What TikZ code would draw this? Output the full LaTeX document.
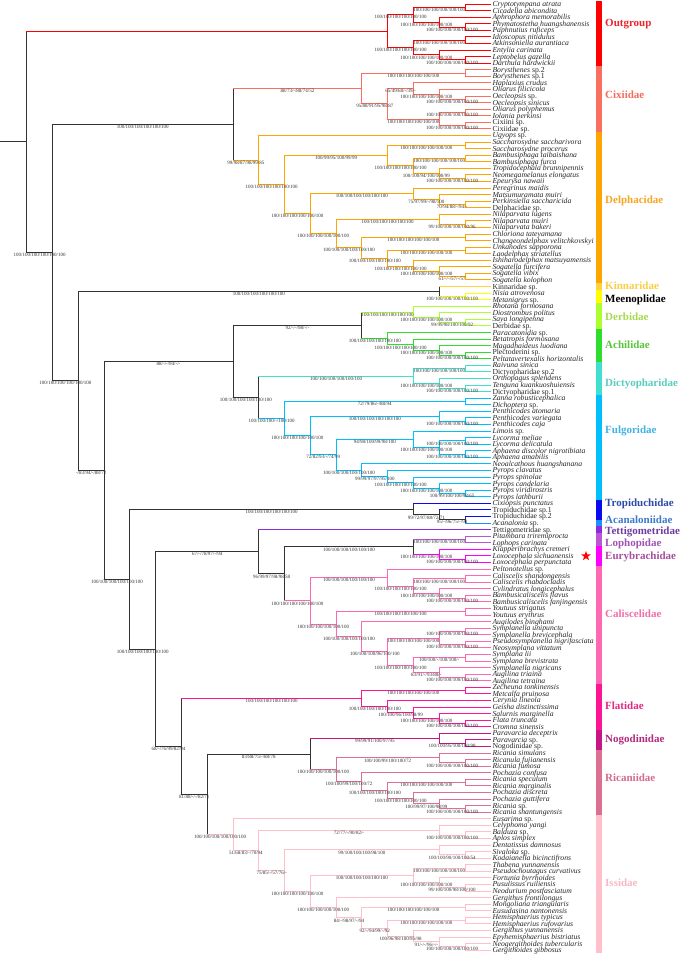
\documentclass[tikz,border=0pt]{standalone}
\usepackage{fontspec}
\setmainfont{Liberation Serif}
\usetikzlibrary{calc,shapes.geometric}
\definecolor{cO}{HTML}{FF0000}
\definecolor{cCx}{HTML}{FA7060}
\definecolor{cDe}{HTML}{FFA500}
\definecolor{cKi}{HTML}{FFD23F}
\definecolor{cMe}{HTML}{FFFF00}
\definecolor{cDb}{HTML}{ADFF2F}
\definecolor{cAc}{HTML}{2FDD2F}
\definecolor{cDi}{HTML}{40E0D0}
\definecolor{cFu}{HTML}{00BFFF}
\definecolor{cTr}{HTML}{0A0AF0}
\definecolor{cAn}{HTML}{1E90FF}
\definecolor{cTe}{HTML}{8A2BE2}
\definecolor{cLo}{HTML}{BA55D3}
\definecolor{cEu}{HTML}{FF00FF}
\definecolor{cCa}{HTML}{FF69B4}
\definecolor{cFl}{HTML}{FF1493}
\definecolor{cNo}{HTML}{C71585}
\definecolor{cRi}{HTML}{DB7093}
\definecolor{cIs}{HTML}{FFC0CB}
\definecolor{cK}{HTML}{333333}
\definecolor{tO}{HTML}{E8262C}
\definecolor{tCx}{HTML}{F26D5B}
\definecolor{tDe}{HTML}{F5A623}
\definecolor{tKi}{HTML}{F9CF45}
\definecolor{tMe}{HTML}{000000}
\definecolor{tDb}{HTML}{A8D84E}
\definecolor{tAc}{HTML}{58C43A}
\definecolor{tDi}{HTML}{5BCBC0}
\definecolor{tFu}{HTML}{40B3E3}
\definecolor{tTr}{HTML}{2E4BA8}
\definecolor{tAn}{HTML}{3C7ACB}
\definecolor{tTe}{HTML}{6E3CA0}
\definecolor{tLo}{HTML}{9D54B5}
\definecolor{tEu}{HTML}{A74E9E}
\definecolor{tCa}{HTML}{F06FAA}
\definecolor{tFl}{HTML}{E02A80}
\definecolor{tNo}{HTML}{B02B7E}
\definecolor{tRi}{HTML}{D46C8C}
\definecolor{tIs}{HTML}{F7B8C6}
\definecolor{tipgray}{HTML}{262626}
\definecolor{labgray}{HTML}{333333}
\tikzset{
  br/.style={line width=0.9pt, line cap=rect},
  lab/.style={midway, below, inner sep=0.4pt, font=\fontsize{5}{5}\selectfont, text=labgray},
  tip/.style={anchor=west, inner xsep=1.5pt, inner ysep=0pt, text height=5pt, text depth=0pt, font=\fontsize{7.7}{8}\selectfont\itshape, text=tipgray},
  fam/.style={anchor=west, inner sep=0pt, text height=7.3pt, text depth=0.5pt, font=\fontsize{11}{12}\selectfont\bfseries},
}
\newcommand\mytp[3]{\node[tip] (#1) at (490.8,{-(4+(#2-1)*6.57)}) {#3};}
\newcommand\mycl[9]{%
 \path let \p1=(#3), \p2=(#4) in coordinate (#1) at ({490.8-25.78*#2},{(\y1+\y2)/2});
 \draw[br,#5] (#1 |- #3) -- (#1 |- #4);
 \draw[br,#6] (#1 |- #3) -- (#3) node[lab]{#7};
 \draw[br,#8] (#1 |- #4) -- (#4) node[lab]{#9};
}
\newcommand\myfb[3]{\fill[#1] (595.5,{-(4+(#2-1.5)*6.57)}) rectangle (602.3,{-(4+(#3-0.5)*6.57)});}
\def\H{100/100/100/100/100/100}
\begin{document}
\begin{tikzpicture}[x=1pt,y=1pt]
\useasboundingbox (0,0) rectangle (685,-954);
% ---------------- tips
\mytp{t1}{1}{Cryptotympana atrata}
\mytp{t2}{2}{Cicadella abicondita}
\mytp{t3}{3}{Aphrophora memorabilis}
\mytp{t4}{4}{Phymatostetha huangshanensis}
\mytp{t5}{5}{Paphnutius ruficeps}
\mytp{t6}{6}{Idioscopus nitidulus}
\mytp{t7}{7}{Atkinsoniella aurantiaca}
\mytp{t8}{8}{Entylia carinata}
\mytp{t9}{9}{Leptobelus gazella}
\mytp{t10}{10}{Darthula hardwickii}
\mytp{t11}{11}{Borysthenes \textup{sp.2}}
\mytp{t12}{12}{Borysthenes \textup{sp.1}}
\mytp{t13}{13}{Haplaxius crudus}
\mytp{t14}{14}{Oliarus filicicola}
\mytp{t15}{15}{Oecleopsis \textup{sp.}}
\mytp{t16}{16}{Oecleopsis sinicus}
\mytp{t17}{17}{Oliarus polyphemus}
\mytp{t18}{18}{Iolania perkinsi}
\mytp{t19}{19}{\textup{Cixiini sp.}}
\mytp{t20}{20}{\textup{Cixiidae sp.}}
\mytp{t21}{21}{Ugyops \textup{sp.}}
\mytp{t22}{22}{Saccharosydne saccharivora}
\mytp{t23}{23}{Saccharosydne procerus}
\mytp{t24}{24}{Bambusiphaga taibaishana}
\mytp{t25}{25}{Bambusiphaga furca}
\mytp{t26}{26}{Tropidocephala brunnipennis}
\mytp{t27}{27}{Neomegamelanus elongatus}
\mytp{t28}{28}{Epeurysa nawaii}
\mytp{t29}{29}{Peregrinus maidis}
\mytp{t30}{30}{Matsumuramata muiri}
\mytp{t31}{31}{Perkinsiella saccharicida}
\mytp{t32}{32}{\textup{Delphacidae sp.}}
\mytp{t33}{33}{Nilaparvata lugens}
\mytp{t34}{34}{Nilaparvata muiri}
\mytp{t35}{35}{Nilaparvata bakeri}
\mytp{t36}{36}{Chloriona tateyamana}
\mytp{t37}{37}{Changeondelphax velitchkovskyi}
\mytp{t38}{38}{Unkanodes sapporona}
\mytp{t39}{39}{Laodelphax striatellus}
\mytp{t40}{40}{Ishiharodelphax matsuyamensis}
\mytp{t41}{41}{Sogatella furcifera}
\mytp{t42}{42}{Sogatella vibix}
\mytp{t43}{43}{Sogatella kolophon}
\mytp{t44}{44}{\textup{Kinnaridae sp.}}
\mytp{t45}{45}{Nisia atrovenosa}
\mytp{t46}{46}{Metanigrus \textup{sp.}}
\mytp{t47}{47}{Rhotana formosana}
\mytp{t48}{48}{Diostrombus politus}
\mytp{t49}{49}{Saya longipenna}
\mytp{t50}{50}{\textup{Derbidae sp.}}
\mytp{t51}{51}{Paracatonidia \textup{sp.}}
\mytp{t52}{52}{Betatropis formosana}
\mytp{t53}{53}{Magadhaideus luodiana}
\mytp{t54}{54}{\textup{Plectoderini sp.}}
\mytp{t55}{55}{Peltatavertexalis horizontalis}
\mytp{t56}{56}{Raivuna sinica}
\mytp{t57}{57}{\textup{Dictyopharidae sp.2}}
\mytp{t58}{58}{Orthopagus splendens}
\mytp{t59}{59}{Tenguna kuankuoshuiensis}
\mytp{t60}{60}{\textup{Dictyopharidae sp.1}}
\mytp{t61}{61}{Zanna robusticephalica}
\mytp{t62}{62}{Dichoptera \textup{sp.}}
\mytp{t63}{63}{Penthicodes atomaria}
\mytp{t64}{64}{Penthicodes variegata}
\mytp{t65}{65}{Penthicodes caja}
\mytp{t66}{66}{Limois \textup{sp.}}
\mytp{t67}{67}{Lycorma meliae}
\mytp{t68}{68}{Lycorma delicatula}
\mytp{t69}{69}{Aphaena discolor nigrotibiata}
\mytp{t70}{70}{Aphaena amabilis}
\mytp{t71}{71}{Neoalcathous huangshanana}
\mytp{t72}{72}{Pyrops clavatus}
\mytp{t73}{73}{Pyrops spinolae}
\mytp{t74}{74}{Pyrops candelaria}
\mytp{t75}{75}{Pyrops viridirostris}
\mytp{t76}{76}{Pyrops lathburii}
\mytp{t77}{77}{Cixiopsis punctatus}
\mytp{t78}{78}{\textup{Tropiduchidae sp.1}}
\mytp{t79}{79}{\textup{Tropiduchidae sp.2}}
\mytp{t80}{80}{Acanalonia \textup{sp.}}
\mytp{t81}{81}{\textup{Tettigometridae sp.}}
\mytp{t82}{82}{Pitambara triremiprocta}
\mytp{t83}{83}{Lophops carinata}
\mytp{t84}{84}{Klapperibrachys cremeri}
\mytp{t85}{85}{Loxocephala sichuanensis}
\mytp{t86}{86}{Loxocephala perpunctata}
\mytp{t87}{87}{Peltonotellus \textup{sp.}}
\mytp{t88}{88}{Caliscelis shandongensis}
\mytp{t89}{89}{Caliscelis rhabdocladis}
\mytp{t90}{90}{Cylindratus longicephalus}
\mytp{t91}{91}{Bambusicaliscelis flavus}
\mytp{t92}{92}{Bambusicaliscelis fanjingensis}
\mytp{t93}{93}{Youtuus strigatus}
\mytp{t94}{94}{Youtuus erythrus}
\mytp{t95}{95}{Augilodes binghami}
\mytp{t96}{96}{Symplanella unipuncta}
\mytp{t97}{97}{Symplanella brevicephala}
\mytp{t98}{98}{Pseudosymplanella nigrifasciata}
\mytp{t99}{99}{Neosymplana vittatum}
\mytp{t100}{100}{Symplana lii}
\mytp{t101}{101}{Symplana brevistrata}
\mytp{t102}{102}{Symplanella nigricans}
\mytp{t103}{103}{Augilina triaina}
\mytp{t104}{104}{Augilina tetraina}
\mytp{t105}{105}{Zecheuna tonkinensis}
\mytp{t106}{106}{Metcalfa pruinosa}
\mytp{t107}{107}{Cerynia lineola}
\mytp{t108}{108}{Geisha distinctissima}
\mytp{t109}{109}{Salurnis marginella}
\mytp{t110}{110}{Flata truncata}
\mytp{t111}{111}{Cromna sinensis}
\mytp{t112}{112}{Paravarcia deceptrix}
\mytp{t113}{113}{Paravarcia \textup{sp.}}
\mytp{t114}{114}{\textup{Nogodinidae sp.}}
\mytp{t115}{115}{Ricania simulans}
\mytp{t116}{116}{Ricanula fujianensis}
\mytp{t117}{117}{Ricania fumosa}
\mytp{t118}{118}{Pochazia confusa}
\mytp{t119}{119}{Ricania speculum}
\mytp{t120}{120}{Ricania marginalis}
\mytp{t121}{121}{Pochazia discreta}
\mytp{t122}{122}{Pochazia guttifera}
\mytp{t123}{123}{Ricania \textup{sp.}}
\mytp{t124}{124}{Ricania shantungensis}
\mytp{t125}{125}{Eusarima \textup{sp.}}
\mytp{t126}{126}{Celyphoma yangi}
\mytp{t127}{127}{Balduza \textup{sp.}}
\mytp{t128}{128}{Aplos simplex}
\mytp{t129}{129}{Dentatissus damnosus}
\mytp{t130}{130}{Sivaloka \textup{sp.}}
\mytp{t131}{131}{Kodaianella bicinctifrons}
\mytp{t132}{132}{Thabena yunnanensis}
\mytp{t133}{133}{Pseudochoutagus curvativus}
\mytp{t134}{134}{Fortunia byrrhoides}
\mytp{t135}{135}{Pusulissus ruiliensis}
\mytp{t136}{136}{Neodurium postfasciatum}
\mytp{t137}{137}{Gergithus frontilongus}
\mytp{t138}{138}{Mongoliana triangularis}
\mytp{t139}{139}{Eusudasina nantonensis}
\mytp{t140}{140}{Hemisphaerius typicus}
\mytp{t141}{141}{Hemisphaerius rufovarius}
\mytp{t142}{142}{Gergithus yunnanensis}
\mytp{t143}{143}{Epyhemisphaerius bistriatus}
\mytp{t144}{144}{Neogergithoides tubercularis}
\mytp{t145}{145}{Gergithoides gibbosus}
% ---------------- Outgroup
\mycl{o1}{1}{t1}{t2}{cO}{cO}{}{cO}{}
\mycl{o2}{1}{t4}{t5}{cO}{cO}{}{cO}{}
\mycl{o3}{2}{t3}{o2}{cO}{cO}{}{cO}{\H}
\mycl{o4}{3}{o1}{o3}{cO}{cO}{\H}{cO}{\H}
\mycl{o5}{1}{t6}{t7}{cO}{cO}{}{cO}{}
\mycl{o6}{1}{t9}{t10}{cO}{cO}{}{cO}{}
\mycl{o7}{2}{t8}{o6}{cO}{cO}{}{cO}{\H}
\mycl{o8}{3}{o5}{o7}{cO}{cO}{\H}{cO}{\H}
\mycl{og}{4}{o4}{o8}{cO}{cO}{\H}{cO}{\H}
% ---------------- Cixiidae
\mycl{c1}{1}{t11}{t12}{cCx}{cCx}{}{cCx}{}
\mycl{c2}{1}{t15}{t16}{cCx}{cCx}{}{cCx}{}
\mycl{c3}{2}{t14}{c2}{cCx}{cCx}{}{cCx}{\H}
\mycl{c4}{3}{t13}{c3}{cCx}{cCx}{}{cCx}{\H}
\mycl{c5}{1}{t17}{t18}{cCx}{cCx}{}{cCx}{}
\mycl{c6}{1}{t19}{t20}{cCx}{cCx}{}{cCx}{}
\mycl{c7}{2}{c5}{c6}{cCx}{cCx}{\H}{cCx}{\H}
\mycl{c8}{4}{c4}{c7}{cCx}{cCx}{65/49/68/-/39/-}{cCx}{\H}
\mycl{cx}{5}{c1}{c8}{cCx}{cCx}{\H}{cCx}{95/88/91/95/98/87}
% ---------------- Delphacidae
\mycl{d1}{1}{t22}{t23}{cDe}{cDe}{}{cDe}{}
\mycl{d2}{1}{t24}{t25}{cDe}{cDe}{}{cDe}{}
\mycl{d3}{1}{t27}{t28}{cDe}{cDe}{}{cDe}{}
\mycl{d4}{2}{t26}{d3}{cDe}{cDe}{}{cDe}{\H}
\mycl{d5}{3}{d2}{d4}{cDe}{cDe}{\H}{cDe}{100/100/94/100/100/99}
\mycl{d6}{4}{d1}{d5}{cDe}{cDe}{\H}{cDe}{\H}
\mycl{d7}{1}{t31}{t32}{cDe}{cDe}{}{cDe}{}
\mycl{d8}{2}{t30}{d7}{cDe}{cDe}{}{cDe}{70/94/88/-/94/-}
\mycl{d9}{3}{t29}{d8}{cDe}{cDe}{}{cDe}{75/97/99/-/98/100}
\mycl{d10}{1}{t34}{t35}{cDe}{cDe}{}{cDe}{}
\mycl{d11}{2}{t33}{d10}{cDe}{cDe}{}{cDe}{99/100/100/100/100/96}
\mycl{d12}{1}{t36}{t37}{cDe}{cDe}{}{cDe}{}
\mycl{d13}{1}{t38}{t39}{cDe}{cDe}{}{cDe}{}
\mycl{d14}{1}{t42}{t43}{cDe}{cDe}{}{cDe}{}
\mycl{d15}{2}{t41}{d14}{cDe}{cDe}{}{cDe}{61/-/-/57/-/57}
\mycl{d16}{3}{t40}{d15}{cDe}{cDe}{}{cDe}{\H}
\mycl{d17}{4}{d13}{d16}{cDe}{cDe}{\H}{cDe}{\H}
\mycl{d18}{5}{d12}{d17}{cDe}{cDe}{\H}{cDe}{\H}
\mycl{d19}{6}{d11}{d18}{cDe}{cDe}{\H}{cDe}{\H}
\mycl{d20}{7}{d9}{d19}{cDe}{cDe}{\H}{cDe}{\H}
\mycl{d21}{8}{d6}{d20}{cDe}{cDe}{100/99/95/100/99/99}{cDe}{\H}
\mycl{de}{9}{t21}{d21}{cDe}{cDe}{}{cDe}{\H}
\mycl{na}{10}{cx}{de}{cK}{cCx}{88/73/-/88/74/52}{cDe}{99/98/87/98/99/85}
% ---------------- Kinnaridae + Meenoplidae
\mycl{km1}{1}{t45}{t46}{cMe}{cMe}{}{cMe}{}
\mycl{km}{2}{t44}{km1}{cK}{cKi}{}{cMe}{\H}
% ---------------- Derbidae + Achilidae
\mycl{db1}{1}{t49}{t50}{cDb}{cDb}{}{cDb}{}
\mycl{db2}{2}{t48}{db1}{cDb}{cDb}{}{cDb}{99/99/98/100/100/92}
\mycl{db}{3}{t47}{db2}{cDb}{cDb}{}{cDb}{\H}
\mycl{ac1}{1}{t54}{t55}{cAc}{cAc}{}{cAc}{}
\mycl{ac2}{2}{t53}{ac1}{cAc}{cAc}{}{cAc}{\H}
\mycl{ac3}{3}{t52}{ac2}{cAc}{cAc}{}{cAc}{\H}
\mycl{ac}{4}{t51}{ac3}{cAc}{cAc}{}{cAc}{\H}
\mycl{da}{5}{db}{ac}{cK}{cDb}{\H}{cAc}{\H}
% ---------------- Dictyopharidae + Fulgoridae
\mycl{di1}{1}{t56}{t57}{cDi}{cDi}{}{cDi}{}
\mycl{di2}{1}{t59}{t60}{cDi}{cDi}{}{cDi}{}
\mycl{di3}{2}{t58}{di2}{cDi}{cDi}{}{cDi}{\H}
\mycl{di}{3}{di1}{di3}{cDi}{cDi}{\H}{cDi}{\H}
\mycl{fu1}{1}{t61}{t62}{cFu}{cFu}{}{cFu}{}
\mycl{fu2}{1}{t64}{t65}{cFu}{cFu}{}{cFu}{}
\mycl{fu3}{2}{t63}{fu2}{cFu}{cFu}{}{cFu}{\H}
\mycl{fu4}{1}{t67}{t68}{cFu}{cFu}{}{cFu}{}
\mycl{fu5}{1}{t69}{t70}{cFu}{cFu}{}{cFu}{}
\mycl{fu6}{2}{fu4}{fu5}{cFu}{cFu}{\H}{cFu}{\H}
\mycl{fu7}{3}{t66}{fu6}{cFu}{cFu}{}{cFu}{\H}
\mycl{fu8}{1}{t75}{t76}{cFu}{cFu}{}{cFu}{}
\mycl{fu9}{2}{t74}{fu8}{cFu}{cFu}{}{cFu}{100/99/100/100/98/65}
\mycl{fu10}{3}{t73}{fu9}{cFu}{cFu}{}{cFu}{\H}
\mycl{fu11}{4}{t72}{fu10}{cFu}{cFu}{}{cFu}{\H}
\mycl{fu12}{5}{t71}{fu11}{cFu}{cFu}{}{cFu}{99/99/97/97/95/100}
\mycl{fu13}{6}{fu7}{fu12}{cFu}{cFu}{94/98/100/99/98/100}{cFu}{\H}
\mycl{fu14}{7}{fu3}{fu13}{cFu}{cFu}{\H}{cFu}{72/82/93/-/74/99}
\mycl{fu}{8}{fu1}{fu14}{cFu}{cFu}{72/79/86/-/88/94}{cFu}{\H}
\mycl{dfn}{9}{di}{fu}{cK}{cDi}{\H}{cFu}{100/100/100/-/100/100}
\mycl{b2a}{10}{da}{dfn}{cK}{cK}{92/-/-/98/-/-}{cK}{\H}
% ---------------- Tropiduchidae + Acanaloniidae
\mycl{tr1}{1}{t79}{t80}{cK}{cTr}{}{cAn}{}
\mycl{tr2}{2}{t78}{tr1}{cK}{cTr}{}{cK}{95/-/96/75/-/98}
\mycl{tr}{3}{t77}{tr2}{cK}{cTr}{}{cK}{99/72/97/88/72/71}
% ---------------- Lophopidae + Eurybrachidae
\mycl{lo}{1}{t82}{t83}{cLo}{cLo}{}{cLo}{}
\mycl{eu1}{1}{t85}{t86}{cEu}{cEu}{}{cEu}{}
\mycl{eu}{2}{t84}{eu1}{cEu}{cEu}{}{cEu}{\H}
\mycl{le}{3}{lo}{eu}{cK}{cLo}{\H}{cEu}{\H}
% ---------------- Caliscelidae
\mycl{ca1}{1}{t88}{t89}{cCa}{cCa}{}{cCa}{}
\mycl{ca2}{1}{t91}{t92}{cCa}{cCa}{}{cCa}{}
\mycl{ca3}{2}{t90}{ca2}{cCa}{cCa}{}{cCa}{\H}
\mycl{ca4}{3}{ca1}{ca3}{cCa}{cCa}{\H}{cCa}{\H}
\mycl{ca5}{4}{t87}{ca4}{cCa}{cCa}{}{cCa}{\H}
\mycl{ca6}{1}{t93}{t94}{cCa}{cCa}{}{cCa}{}
\mycl{ca7}{1}{t96}{t97}{cCa}{cCa}{}{cCa}{}
\mycl{ca8}{1}{t98}{t99}{cCa}{cCa}{}{cCa}{}
\mycl{ca9}{2}{ca7}{ca8}{cCa}{cCa}{\H}{cCa}{\H}
\mycl{ca10}{1}{t100}{t101}{cCa}{cCa}{}{cCa}{}
\mycl{ca11}{1}{t103}{t104}{cCa}{cCa}{}{cCa}{}
\mycl{ca12}{2}{t102}{ca11}{cCa}{cCa}{}{cCa}{\H}
\mycl{ca13}{3}{ca10}{ca12}{cCa}{cCa}{100/100/-/100/100/-}{cCa}{83/91/-/93/88/-}
\mycl{ca14}{4}{ca9}{ca13}{cCa}{cCa}{\H}{cCa}{\H}
\mycl{ca15}{5}{t95}{ca14}{cCa}{cCa}{}{cCa}{100/100/100/96/100/100}
\mycl{ca16}{6}{ca6}{ca15}{cCa}{cCa}{\H}{cCa}{\H}
\mycl{ca}{7}{ca5}{ca16}{cCa}{cCa}{\H}{cCa}{\H}
\mycl{t2n}{8}{le}{ca}{cK}{cK}{\H}{cCa}{\H}
\mycl{tn}{9}{t81}{t2n}{cK}{cTe}{}{cK}{96/99/97/98/98/58}
% ---------------- Flatidae
\mycl{fl1}{1}{t105}{t106}{cFl}{cFl}{}{cFl}{}
\mycl{fl2}{1}{t110}{t111}{cFl}{cFl}{}{cFl}{}
\mycl{fl3}{2}{t109}{fl2}{cFl}{cFl}{}{cFl}{\H}
\mycl{fl4}{3}{t108}{fl3}{cFl}{cFl}{}{cFl}{\H}
\mycl{fl5}{4}{t107}{fl4}{cFl}{cFl}{}{cFl}{100/100/96/100/98/99}
\mycl{fl}{5}{fl1}{fl5}{cFl}{cFl}{\H}{cFl}{\H}
% ---------------- Nogodinidae + Ricaniidae
\mycl{no1}{1}{t113}{t114}{cNo}{cNo}{}{cNo}{}
\mycl{no}{2}{t112}{no1}{cNo}{cNo}{}{cNo}{100/100/95/100/100/98}
\mycl{ri1}{1}{t116}{t117}{cRi}{cRi}{}{cRi}{}
\mycl{ri2}{2}{t115}{ri1}{cRi}{cRi}{}{cRi}{\H}
\mycl{ri3}{1}{t119}{t120}{cRi}{cRi}{}{cRi}{}
\mycl{ri4}{1}{t123}{t124}{cRi}{cRi}{}{cRi}{}
\mycl{ri5}{2}{t122}{ri4}{cRi}{cRi}{}{cRi}{\H}
\mycl{ri6}{3}{t121}{ri5}{cRi}{cRi}{}{cRi}{100/99/97/100/98/99}
\mycl{ri7}{4}{ri3}{ri6}{cRi}{cRi}{\H}{cRi}{\H}
\mycl{ri8}{5}{t118}{ri7}{cRi}{cRi}{}{cRi}{\H}
\mycl{ri}{6}{ri2}{ri8}{cRi}{cRi}{100/100/99/100/100/72}{cRi}{100/100/99/100/100/72}
\mycl{nr}{7}{no}{ri}{cK}{cNo}{99/99/91/100/97/95}{cRi}{\H}
% ---------------- Issidae
\mycl{is1}{1}{t127}{t128}{cIs}{cIs}{}{cIs}{}
\mycl{is2}{2}{t126}{is1}{cIs}{cIs}{}{cIs}{\H}
\mycl{is3}{1}{t130}{t131}{cIs}{cIs}{}{cIs}{}
\mycl{is4}{2}{t129}{is3}{cIs}{cIs}{}{cIs}{100/100/90/100/100/54}
\mycl{is5}{1}{t132}{t133}{cIs}{cIs}{}{cIs}{}
\mycl{is6}{1}{t135}{t136}{cIs}{cIs}{}{cIs}{}
\mycl{is7}{2}{t134}{is6}{cIs}{cIs}{}{cIs}{99/100/100/98/100/100}
\mycl{is8}{3}{is5}{is7}{cIs}{cIs}{\H}{cIs}{\H}
\mycl{is9}{1}{t138}{t139}{cIs}{cIs}{}{cIs}{}
\mycl{is10}{1}{t140}{t141}{cIs}{cIs}{}{cIs}{}
\mycl{is11}{1}{t144}{t145}{cIs}{cIs}{}{cIs}{}
\mycl{is12}{2}{t143}{is11}{cIs}{cIs}{}{cIs}{\H}
\mycl{is13}{3}{t142}{is12}{cIs}{cIs}{}{cIs}{91/-/-/96/-/-}
\mycl{is14}{4}{is10}{is13}{cIs}{cIs}{\H}{cIs}{100/96/98/100/95/98}
\mycl{is15}{5}{is9}{is14}{cIs}{cIs}{\H}{cIs}{92/-/94/99/-/92}
\mycl{is16}{6}{t137}{is15}{cIs}{cIs}{}{cIs}{84/-/98/97/-/94}
\mycl{is17}{7}{is8}{is16}{cIs}{cIs}{\H}{cIs}{\H}
\mycl{is18}{8}{is4}{is17}{cIs}{cIs}{99/100/100/100/98/100}{cIs}{\H}
\mycl{is19}{9}{is2}{is18}{cIs}{cIs}{72/77/-/90/82/-}{cIs}{75/85/-/57/76/-}
\mycl{is}{10}{t125}{is19}{cIs}{cIs}{}{cIs}{51/68/83/-/70/94}
% ---------------- backbone
\mycl{n2}{11}{nr}{is}{cK}{cK}{83/88/75/-/88/78}{cIs}{\H}
\mycl{n1}{12}{fl}{n2}{cK}{cFl}{\H}{cK}{81/88/-/-/82/71}
\mycl{b2c}{13}{tn}{n1}{cK}{cK}{67/-/78/97/-/94}{cK}{68/-/76/99/82/94}
\mycl{b2b}{14}{tr}{b2c}{cK}{cK}{\H}{cK}{\H}
\mycl{b2}{15}{b2a}{b2b}{cK}{cK}{88/-/-/94/-/-}{cK}{\H}
\mycl{nb}{16}{km}{b2}{cK}{cK}{\H}{cK}{-/83/94/-/88/72}
\mycl{f0}{17}{na}{nb}{cK}{cK}{\H}{cK}{\H}
\mycl{root}{18}{og}{f0}{cK}{cO}{}{cK}{\H}
\coordinate (stem) at (0,0);
\draw[br,cK] (stem |- root) -- (root);
% ---------------- family bar
\myfb{cO}{1}{10}
\myfb{cCx}{11}{20}
\myfb{cDe}{21}{43}
\myfb{cKi}{44}{44}
\myfb{cMe}{45}{46}
\myfb{cDb}{47}{50}
\myfb{cAc}{51}{55}
\myfb{cDi}{56}{60}
\myfb{cFu}{61}{76}
\myfb{cTr}{77}{79}
\myfb{cAn}{80}{80}
\myfb{cTe}{81}{81}
\myfb{cLo}{82}{83}
\myfb{cEu}{84}{86}
\myfb{cCa}{87}{104}
\myfb{cFl}{105}{111}
\myfb{cNo}{112}{114}
\myfb{cRi}{115}{124}
\myfb{cIs}{125}{145}
% ---------------- family names
\node[fam,text=tO] (fOut) at (605,-23) {Outgroup};
\node[fam,text=tCx] (fCix) at (605,-95) {Cixiidae};
\node[fam,text=tDe] (fDel) at (605,-200) {Delphacidae};
\node[fam,text=tKi] (fKin) at (605,-286) {Kinnaridae};
\node[fam,text=tMe] (fMee) at (605,-298.7) {Meenoplidae};
\node[fam,text=tDb] (fDer) at (605,-317) {Derbidae};
\node[fam,text=tAc] (fAch) at (605,-345) {Achilidae};
\node[fam,text=tDi] (fDic) at (605,-383) {Dictyopharidae};
\node[fam,text=tFu] (fFul) at (605,-430) {Fulgoridae};
\node[fam,text=tTr] (fTro) at (605,-502.7) {Tropiduchidae};
\node[fam,text=tAn] (fAca) at (605,-519.8) {Acanaloniidae};
\node[fam,text=tTe] (fTet) at (605,-531) {Tettigometridae};
\node[fam,text=tLo] (fLop) at (605,-543) {Lophopidae};
\node[fam,text=tEu] (fEur) at (605,-556) {Eurybrachidae};
\node[fam,text=tCa] (fCal) at (605,-614.3) {Caliscelidae};
\node[fam,text=tFl] (fFla) at (605,-706) {Flatidae};
\node[fam,text=tNo] (fNog) at (605,-739) {Nogodinidae};
\node[fam,text=tRi] (fRic) at (605,-778) {Ricaniidae};
\node[fam,text=tIs] (fIss) at (605,-883) {Issidae};
\node[star, star points=5, star point ratio=2.4, fill=red, draw=none, inner sep=0pt, minimum size=10pt] (redstar) at (586,-556) {};
\end{tikzpicture}
\end{document}
